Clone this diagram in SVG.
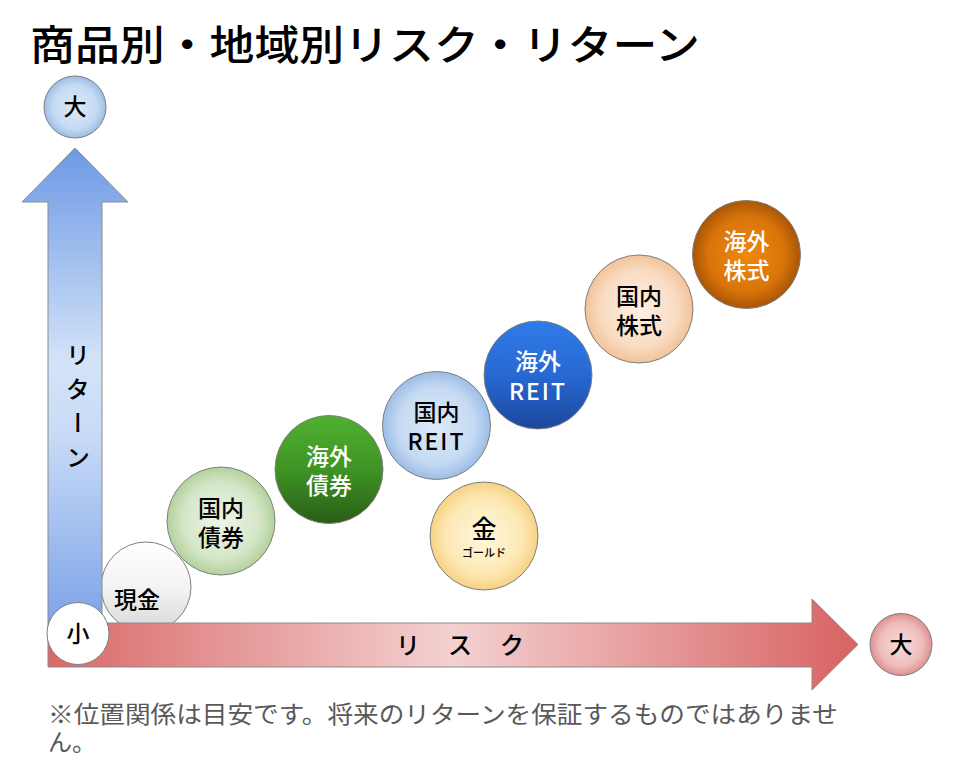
<svg xmlns="http://www.w3.org/2000/svg" width="960" height="770" viewBox="0 0 960 770">
<defs>
<style>
text{font-family:"Noto Sans CJK JP","Noto Sans",sans-serif;fill:#000;text-anchor:middle;font-weight:500}
.lbl{font-size:23px}
.w{fill:#fff}
.node circle{stroke:#7f7f7f;stroke-width:1}
.arrow{stroke:#8c8c8c;stroke-width:1}
</style>
<linearGradient id="gUp" x1="0" y1="148" x2="0" y2="623" gradientUnits="userSpaceOnUse">
<stop offset="0" stop-color="#6d99e4"/><stop offset="0.45" stop-color="#d3e3f8"/><stop offset="0.6" stop-color="#c9dcf6"/><stop offset="1" stop-color="#7ea3ea"/>
</linearGradient>
<linearGradient id="gRight" x1="48" y1="0" x2="858" y2="0" gradientUnits="userSpaceOnUse">
<stop offset="0" stop-color="#d96868"/><stop offset="0.5" stop-color="#f4d1d1"/><stop offset="1" stop-color="#d86262"/>
</linearGradient>
<radialGradient id="gBlueL"><stop offset="0" stop-color="#dde9f8"/><stop offset="0.7" stop-color="#c5daf3"/><stop offset="1" stop-color="#9dbde6"/></radialGradient>
<radialGradient id="gPink"><stop offset="0" stop-color="#f8dcdc"/><stop offset="0.7" stop-color="#efbcbc"/><stop offset="1" stop-color="#de8f8f"/></radialGradient>
<radialGradient id="gGreenL"><stop offset="0" stop-color="#eef5e8"/><stop offset="0.7" stop-color="#d5e6c8"/><stop offset="1" stop-color="#b3d19c"/></radialGradient>
<linearGradient id="gGreenD" x1="0" y1="0" x2="0" y2="1"><stop offset="0" stop-color="#4fb030"/><stop offset="0.5" stop-color="#3f9424"/><stop offset="1" stop-color="#2a5c17"/></linearGradient>
<radialGradient id="gYellow"><stop offset="0" stop-color="#fff8e0"/><stop offset="0.7" stop-color="#fde8b4"/><stop offset="1" stop-color="#f6d383"/></radialGradient>
<linearGradient id="gBlueD" x1="0" y1="0" x2="0" y2="1"><stop offset="0" stop-color="#307be9"/><stop offset="0.5" stop-color="#2868d3"/><stop offset="1" stop-color="#1b479c"/></linearGradient>
<radialGradient id="gPeach"><stop offset="0" stop-color="#fdf0e4"/><stop offset="0.7" stop-color="#f9dcc2"/><stop offset="1" stop-color="#f2c39a"/></radialGradient>
<radialGradient id="gOrange"><stop offset="0" stop-color="#f0880e"/><stop offset="0.7" stop-color="#d8740a"/><stop offset="1" stop-color="#a95506"/></radialGradient>
<linearGradient id="gWhite" x1="0" y1="0" x2="0" y2="1"><stop offset="0" stop-color="#ffffff"/><stop offset="0.5" stop-color="#f3f3f3"/><stop offset="1" stop-color="#d9d9d9"/></linearGradient>
</defs>
<rect width="960" height="770" fill="#fff"/>
<text x="365" y="60" style="font-size:41px" textLength="670" lengthAdjust="spacingAndGlyphs">商品別・地域別リスク・リターン</text>

<g id="cash" class="node">
<circle cx="146" cy="587" r="45" fill="url(#gWhite)"/>
<text class="lbl" x="137" y="608">現金</text>
</g>

<g id="connectors">
<path class="arrow" d="M48,623 V202 H22 L75,148 L128,202 H102 V623 Z" fill="url(#gUp)"/>
<path class="arrow" d="M48,623 H812 V599 L858,644.5 L812,690 V667 H48 Z" fill="url(#gRight)"/>
<text x="78" y="343" style="font-size:24px;writing-mode:vertical-rl;text-anchor:start" letter-spacing="10">リターン</text>
<text x="474" y="654" style="font-size:24px" letter-spacing="28">リスク</text>
</g>

<g id="small" class="node"><circle cx="78" cy="633.5" r="31" fill="#fff"/><text class="lbl" x="78" y="642">小</text></g>
<g id="return-high" class="node"><circle cx="75" cy="107" r="31" fill="url(#gBlueL)"/><text class="lbl" x="75" y="115">大</text></g>
<g id="risk-high" class="node"><circle cx="901" cy="644.5" r="31" fill="url(#gPink)"/><text class="lbl" x="901" y="653">大</text></g>

<g id="dom-bond" class="node"><circle cx="221" cy="521" r="54" fill="url(#gGreenL)"/><text class="lbl" x="221" y="517">国内</text><text class="lbl" x="221" y="546">債券</text></g>
<g id="for-bond" class="node"><circle cx="329" cy="469.5" r="54" fill="url(#gGreenD)"/><text class="lbl w" x="329" y="465">海外</text><text class="lbl w" x="329" y="494">債券</text></g>
<g id="dom-reit" class="node"><circle cx="436.5" cy="425.5" r="54" fill="url(#gBlueL)"/><text class="lbl" x="436.5" y="421">国内</text><text class="lbl" x="436.5" y="450" letter-spacing="2">REIT</text></g>
<g id="gold" class="node"><circle cx="484" cy="536" r="54" fill="url(#gYellow)"/><text x="484" y="538" style="font-size:25px">金</text><text x="484" y="557" style="font-size:11px">ゴールド</text></g>
<g id="for-reit" class="node"><circle cx="538" cy="375" r="54" fill="url(#gBlueD)"/><text class="lbl w" x="538" y="370">海外</text><text class="lbl w" x="538" y="400" letter-spacing="2">REIT</text></g>
<g id="dom-stock" class="node"><circle cx="639" cy="309" r="54" fill="url(#gPeach)"/><text class="lbl" x="639" y="305">国内</text><text class="lbl" x="639" y="334">株式</text></g>
<g id="for-stock" class="node"><circle cx="746.5" cy="254.5" r="54" fill="url(#gOrange)"/><text class="lbl w" x="746.5" y="250">海外</text><text class="lbl w" x="746.5" y="279">株式</text></g>

<text x="48" y="723" style="font-size:24px;text-anchor:start;fill:#595959;font-weight:400" textLength="790" lengthAdjust="spacingAndGlyphs">※位置関係は目安です。将来のリターンを保証するものではありませ</text>
<text x="48" y="751" style="font-size:24px;text-anchor:start;fill:#595959;font-weight:400">ん。</text>
</svg>
